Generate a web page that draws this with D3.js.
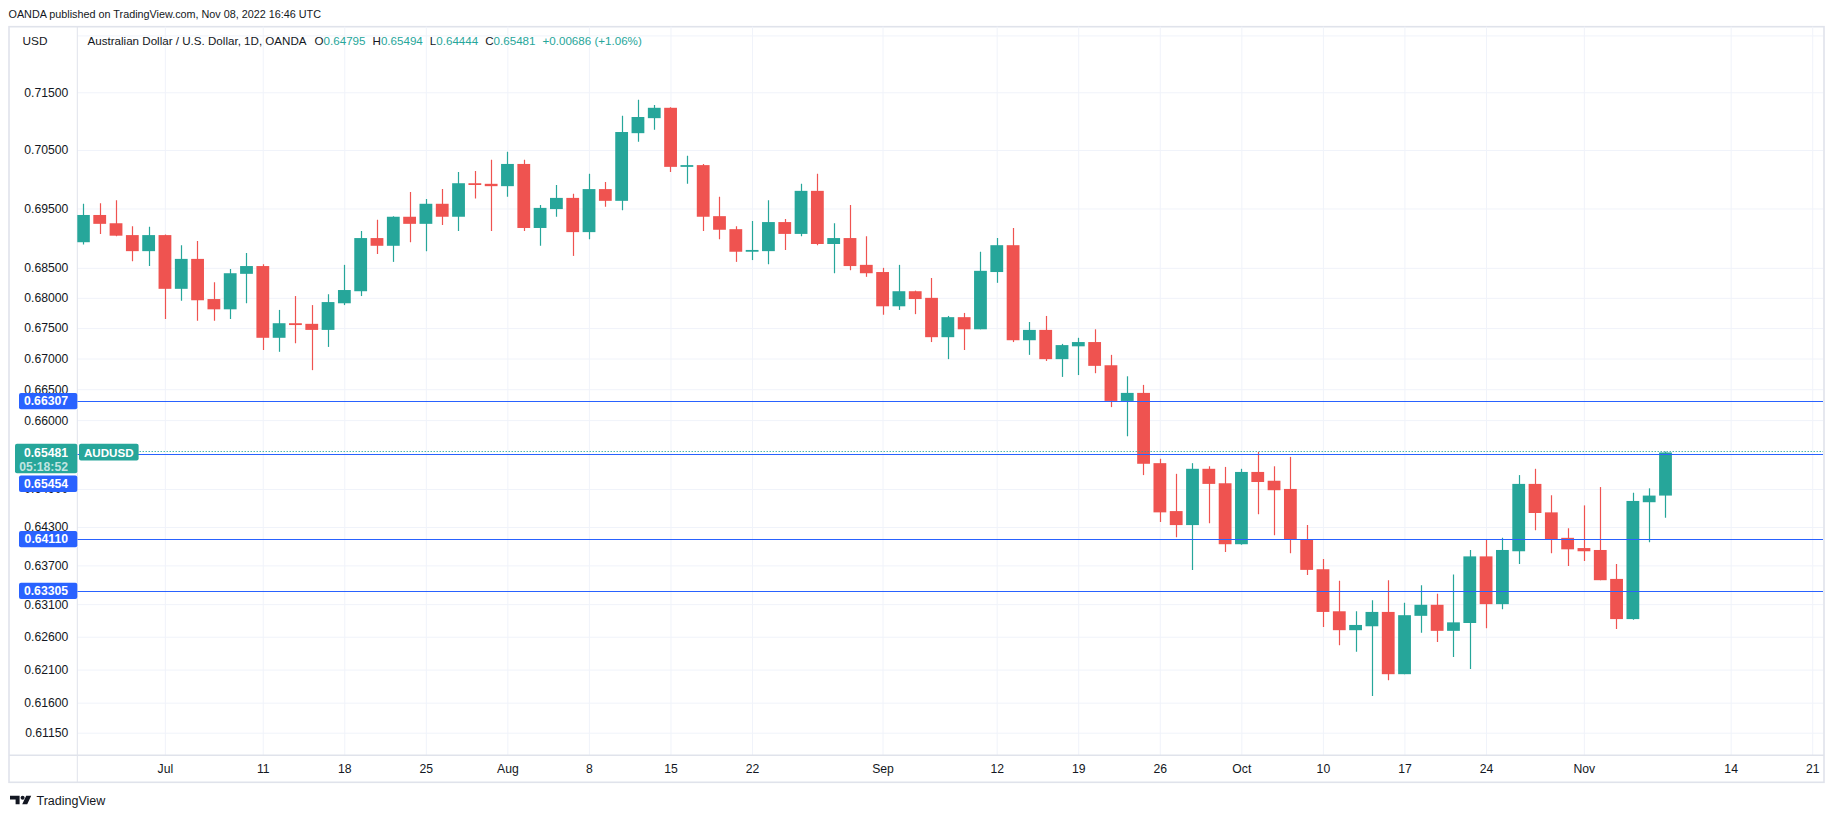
<!DOCTYPE html>
<meta charset="utf-8">
<head>
<title>AUDUSD 1D</title>
<style>
  body { margin: 0; background: #fff; }
  text { font-family: "Liberation Sans", Arial, sans-serif; }
</style>
</head>
<svg width="1834" height="818"></svg>
<script src="https://cdn.jsdelivr.net/npm/d3@7/dist/d3.min.js"></script>
<script>

// daily bars, first one is Fri 24 Jun 2022, one bar per weekday
var firstDay = "2022-06-24";
var lastAxisDay = "2022-11-22";

var openP = [
  0.6893,0.6939,0.6925,0.6905,0.6878,0.6905,0.6815,0.6865,0.6798,0.6781,
  0.6840,0.6853,0.6734,0.6758,0.6757,0.6747,0.6791,0.6811,0.6900,0.6887,
  0.6936,0.6924,0.6958,0.6936,0.6993,0.6992,0.6988,0.7026,0.6917,0.6949,
  0.6968,0.6910,0.6983,0.6963,0.7079,0.7105,0.7123,0.7021,0.7024,0.6937,
  0.6915,0.6877,0.6878,0.6927,0.6907,0.6980,0.6890,0.6900,0.6855,0.6843,
  0.6786,0.6811,0.6800,0.6735,0.6768,0.6748,0.6843,0.6888,0.6730,0.6747,
  0.6699,0.6720,0.6727,0.6689,0.6631,0.6644,0.6531,0.6455,0.6433,0.6522,
  0.6499,0.6403,0.6517,0.6503,0.6490,0.6411,0.6364,0.6299,0.6270,0.6276,
  0.6298,0.6203,0.6292,0.6309,0.6269,0.6281,0.6384,0.6310,0.6392,0.6498,
  0.6453,0.6413,0.6397,0.6394,0.6349,0.6287,0.6469,0.64795];
var highP = [
  0.6958,0.6959,0.6964,0.6920,0.6919,0.6906,0.6888,0.6895,0.6826,0.6848,
  0.6875,0.6856,0.6780,0.6803,0.6788,0.6806,0.6855,0.6912,0.6931,0.6937,
  0.6978,0.6966,0.6983,0.7012,0.7014,0.7033,0.7047,0.7033,0.6956,0.6990,
  0.6975,0.7009,0.6995,0.7109,0.7137,0.7128,0.7124,0.7040,0.7026,0.6970,
  0.6920,0.6929,0.6964,0.6932,0.6992,0.7009,0.6925,0.6956,0.6903,0.6850,
  0.6855,0.6812,0.6833,0.6770,0.6775,0.6877,0.6900,0.6917,0.6760,0.6770,
  0.6724,0.6734,0.6748,0.6706,0.6671,0.6657,0.6538,0.6514,0.6531,0.6526,
  0.6525,0.6522,0.6549,0.6526,0.6541,0.6433,0.6380,0.6346,0.6299,0.6316,
  0.6347,0.6312,0.6339,0.6326,0.6356,0.6394,0.6411,0.6413,0.6512,0.6522,
  0.6480,0.6428,0.6464,0.6493,0.6372,0.6484,0.6491,0.65494];
var lowP = [
  0.6889,0.6907,0.6903,0.6861,0.6853,0.6765,0.6795,0.6762,0.6762,0.6765,
  0.6791,0.6714,0.6711,0.6725,0.6681,0.6719,0.6788,0.6803,0.6873,0.6860,
  0.6893,0.6878,0.6922,0.6912,0.6967,0.6912,0.6970,0.6912,0.6887,0.6936,
  0.6870,0.6898,0.6953,0.6947,0.7064,0.7085,0.7012,0.6992,0.6912,0.6898,
  0.6860,0.6863,0.6856,0.6880,0.6903,0.6888,0.6841,0.6846,0.6835,0.6772,
  0.6780,0.6773,0.6727,0.6699,0.6714,0.6748,0.6825,0.6727,0.6706,0.6696,
  0.6670,0.6673,0.6676,0.6621,0.6574,0.6512,0.6438,0.6414,0.6363,0.6436,
  0.6391,0.6402,0.6450,0.6417,0.6389,0.6355,0.6275,0.6247,0.6237,0.6170,
  0.6194,0.6203,0.6266,0.6252,0.6229,0.6211,0.6273,0.6302,0.6372,0.6425,
  0.6389,0.6369,0.6377,0.6347,0.6272,0.6286,0.6406,0.64444];
var closeP = [
  0.6939,0.6924,0.6904,0.6878,0.6905,0.6815,0.6865,0.6796,0.6781,0.6841,
  0.6853,0.6734,0.6758,0.6755,0.6747,0.6793,0.6813,0.6900,0.6887,0.6936,
  0.6924,0.6958,0.6936,0.6993,0.6990,0.6988,0.7026,0.6917,0.6951,0.6968,
  0.6910,0.6983,0.6963,0.7081,0.7107,0.7123,0.7021,0.7024,0.6936,0.6914,
  0.6877,0.6880,0.6927,0.6907,0.6980,0.6890,0.6900,0.6853,0.6841,0.6786,
  0.6811,0.6798,0.6735,0.6768,0.6748,0.6845,0.6888,0.6730,0.6747,0.6699,
  0.6722,0.6727,0.6688,0.6631,0.6644,0.6530,0.6453,0.6433,0.6522,0.6498,
  0.6403,0.6517,0.6501,0.6488,0.6410,0.6363,0.6298,0.6270,0.6278,0.6298,
  0.6203,0.6293,0.6309,0.6269,0.6282,0.6384,0.6310,0.6394,0.6498,0.6452,
  0.6411,0.6395,0.6392,0.6347,0.6287,0.6471,0.64795,0.65481];

// price scale ticks (log scale); first one has its label hidden under "USD"
var yTicks = [0.725,0.715,0.705,0.695,0.685,0.680,0.675,0.670,0.665,0.660,
              0.649,0.643,0.637,0.631,0.626,0.621,0.616,0.6115];
var xTickDays = ["2022-07-01","2022-07-11","2022-07-18","2022-07-25","2022-08-01",
                 "2022-08-08","2022-08-15","2022-08-22","2022-09-01","2022-09-12",
                 "2022-09-19","2022-09-26","2022-10-03","2022-10-10","2022-10-17",
                 "2022-10-24","2022-11-01","2022-11-14","2022-11-21"];
var xTickLabels = ["Jul","11","18","25","Aug","8","15","22","Sep","12",
                   "19","26","Oct","10","17","24","Nov","14","21"];

// horizontal levels drawn on the chart
var levels = [0.66307, 0.65454, 0.64110, 0.63305];
var countdown = "05:18:52";

var green = "#26a69a", red = "#ef5350", blue = "#2962ff",
    ink = "#131722", grid = "#f0f3fa", border = "#e0e3eb";

var svg = d3.select("svg");
var plotL = 77.3, plotR = 1823, plotT = 26.7, plotB = 755.3;

var parseDay = d3.timeParse("%Y-%m-%d");
var fmtDay = d3.timeFormat("%Y-%m-%d");
var weekdays = d3.timeDay.range(parseDay(firstDay), parseDay(lastAxisDay))
  .filter(function(d) { return d.getDay() > 0 && d.getDay() < 6; })
  .map(fmtDay);

var bars = openP.map(function(o, i) {
  return { i: i, day: weekdays[i], o: o, h: highP[i], l: lowP[i], c: closeP[i] };
});
var lastClose = closeP[closeP.length - 1];

var x = d3.scaleLinear().domain([0, bars.length - 1]).range([83.3, 1665.4]);
var y = d3.scaleLog().domain([0.6115, 0.715]).range([732.7, 92.3]);
var xTickIdx = xTickDays.map(function(d) { return weekdays.indexOf(d); });

// frame
svg.append("rect")
  .attr("x", 9).attr("y", plotT).attr("width", 1815).attr("height", 782.3 - plotT)
  .attr("fill", "#fff").attr("stroke", border).attr("stroke-width", 1.6);

// grid
var gy = svg.append("g").attr("transform", "translate(" + plotL + ",0)")
  .call(d3.axisRight(y).tickValues(yTicks).tickSize(plotR - plotL).tickFormat(""));
gy.select(".domain").remove();
gy.selectAll("line").attr("stroke", grid);

var gx = svg.append("g").attr("transform", "translate(0," + plotB + ")")
  .call(d3.axisTop(x).tickValues(xTickIdx).tickSize(plotB - plotT).tickFormat(""));
gx.select(".domain").remove();
gx.selectAll("line").attr("stroke", grid);

// axis separators
svg.append("line").attr("x1", plotL).attr("x2", plotL).attr("y1", plotT).attr("y2", 782.3)
  .attr("stroke", border);
svg.append("line").attr("x1", 9).attr("x2", 1824).attr("y1", plotB).attr("y2", plotB)
  .attr("stroke", border).attr("stroke-width", 1.4);

// candles
svg.append("clipPath").attr("id", "plot")
  .append("rect").attr("x", plotL).attr("y", plotT)
  .attr("width", plotR - plotL).attr("height", plotB - plotT);
var cg = svg.append("g").attr("clip-path", "url(#plot)");
var candle = cg.selectAll(".candle").data(bars).enter().append("g").attr("class", "candle");
function col(d) { return d.c >= d.o ? green : red; }
candle.append("line")
  .attr("x1", function(d) { return Math.round(x(d.i)) + 0.5; })
  .attr("x2", function(d) { return Math.round(x(d.i)) + 0.5; })
  .attr("y1", function(d) { return y(d.h); })
  .attr("y2", function(d) { return y(d.l); })
  .attr("stroke", col).attr("stroke-width", 1.2);
candle.append("rect")
  .attr("x", function(d) { return x(d.i) - 6.3; })
  .attr("width", 12.8)
  .attr("y", function(d) { return y(Math.max(d.o, d.c)); })
  .attr("height", function(d) { return Math.max(1.5, Math.abs(y(d.o) - y(d.c))); })
  .attr("fill", col);

// level lines
cg.selectAll(".level").data(levels).enter().append("line")
  .attr("class", "level")
  .attr("x1", plotL).attr("x2", plotR)
  .attr("y1", function(d) { return Math.round(y(d)) + 0.5; })
  .attr("y2", function(d) { return Math.round(y(d)) + 0.5; })
  .attr("stroke", blue).attr("stroke-width", 1.2);

// price axis labels
var ya = svg.append("g").attr("transform", "translate(" + plotL + ",0)")
  .call(d3.axisLeft(y).tickValues(yTicks.slice(1)).tickSize(0).tickPadding(9)
    .tickFormat(d3.format(".5f")));
ya.select(".domain").remove();
ya.selectAll("text").attr("fill", ink).attr("font-size", 12.2)
  .style("font-family", "'Liberation Sans', Arial, sans-serif");

// time axis labels
var xa = svg.append("g").attr("transform", "translate(0," + plotB + ")")
  .call(d3.axisBottom(x).tickValues(xTickIdx).tickSize(0).tickPadding(9.5)
    .tickFormat(function(d, i) { return xTickLabels[i]; }));
xa.select(".domain").remove();
xa.selectAll("text").attr("fill", ink).attr("font-size", 12.2)
  .style("font-family", "'Liberation Sans', Arial, sans-serif");

// price tags on the scale
var fmt = d3.format(".5f");
function tag(cy, value, fill) {
  svg.append("rect").attr("x", 19).attr("y", cy - 8.2).attr("width", plotL - 19)
    .attr("height", 16.4).attr("rx", 2).attr("fill", fill);
  svg.append("text").attr("x", 68).attr("y", cy + 4.3).attr("text-anchor", "end")
    .attr("font-size", 12.2).attr("font-weight", "bold").attr("fill", "#fff")
    .text(fmt(value));
}
var yLast = y(lastClose);
var lastTop = yLast - 8.6;
svg.append("rect").attr("x", 15).attr("y", lastTop).attr("width", plotL - 15)
  .attr("height", 29.3).attr("rx", 2).attr("fill", green);
svg.append("text").attr("x", 68).attr("y", lastTop + 13).attr("text-anchor", "end")
  .attr("font-size", 12.2).attr("font-weight", "bold").attr("fill", "#fff").text(fmt(lastClose));
svg.append("text").attr("x", 68).attr("y", lastTop + 27).attr("text-anchor", "end")
  .attr("font-size", 12.2).attr("font-weight", "bold").attr("fill", "rgba(255,255,255,0.72)")
  .text(countdown);

// symbol tag and dotted last price line after it
var symBox = svg.append("rect").attr("x", 79).attr("y", lastTop)
  .attr("height", 16.7).attr("rx", 2).attr("fill", green);
var symText = svg.append("text").attr("x", 84).attr("y", lastTop + 12.8).attr("font-size", 11.6)
  .attr("font-weight", "bold").attr("fill", "#fff").text("AUDUSD");
var symW = symText.node().getComputedTextLength() + 10;
symBox.attr("width", symW);
svg.append("line")
  .attr("x1", 79 + symW + 1).attr("x2", plotR)
  .attr("y1", Math.round(yLast) - 0.5).attr("y2", Math.round(yLast) - 0.5)
  .attr("stroke", green).attr("stroke-width", 1.2).attr("stroke-dasharray", "1.2 1.8");

levels.forEach(function(v) {
  var cy = y(v);
  // tag that would overlap the last price tag is pushed below it
  if (Math.abs(cy - yLast) < 20) cy = lastTop + 29.3 + 2.4 + 8.2;
  tag(cy, v, blue);
});

// header
svg.append("text").attr("x", 8.5).attr("y", 18).attr("font-size", 10.8).attr("fill", ink)
  .text("OANDA published on TradingView.com, Nov 08, 2022 16:46 UTC");
svg.append("text").attr("x", 22.5).attr("y", 45).attr("font-size", 11.8).attr("fill", ink)
  .text("USD");

var legend = svg.append("text").attr("x", 87.5).attr("y", 45).attr("font-size", 11.6)
  .attr("fill", ink);
var last = bars[bars.length - 1], prev = bars[bars.length - 2];
var chg = last.c - prev.c;
legend.append("tspan").text("Australian Dollar / U.S. Dollar, 1D, OANDA");
[["O", last.o], ["H", last.h], ["L", last.l], ["C", last.c]].forEach(function(p, k) {
  legend.append("tspan").attr("dx", k === 0 ? 8 : 7).text(p[0]);
  legend.append("tspan").attr("fill", green).text(fmt(p[1]));
});
legend.append("tspan").attr("dx", 7).attr("fill", green)
  .text("+" + fmt(chg) + " (+" + d3.format(".2f")(chg / prev.c * 100) + "%)");

// TradingView mark
var logo = svg.append("g").attr("fill", ink);
logo.append("path").attr("d", "M10,795.8 h9.6 v8.4 h-4 v-4.6 h-5.6 z");
logo.append("circle").attr("cx", 22.6).attr("cy", 797.8).attr("r", 2);
logo.append("path").attr("d", "M26.2,795.8 h5 l-4,8.4 h-5 z");
svg.append("text").attr("x", 36.5).attr("y", 805).attr("font-size", 12.5).attr("fill", ink)
  .text("TradingView");

</script>
